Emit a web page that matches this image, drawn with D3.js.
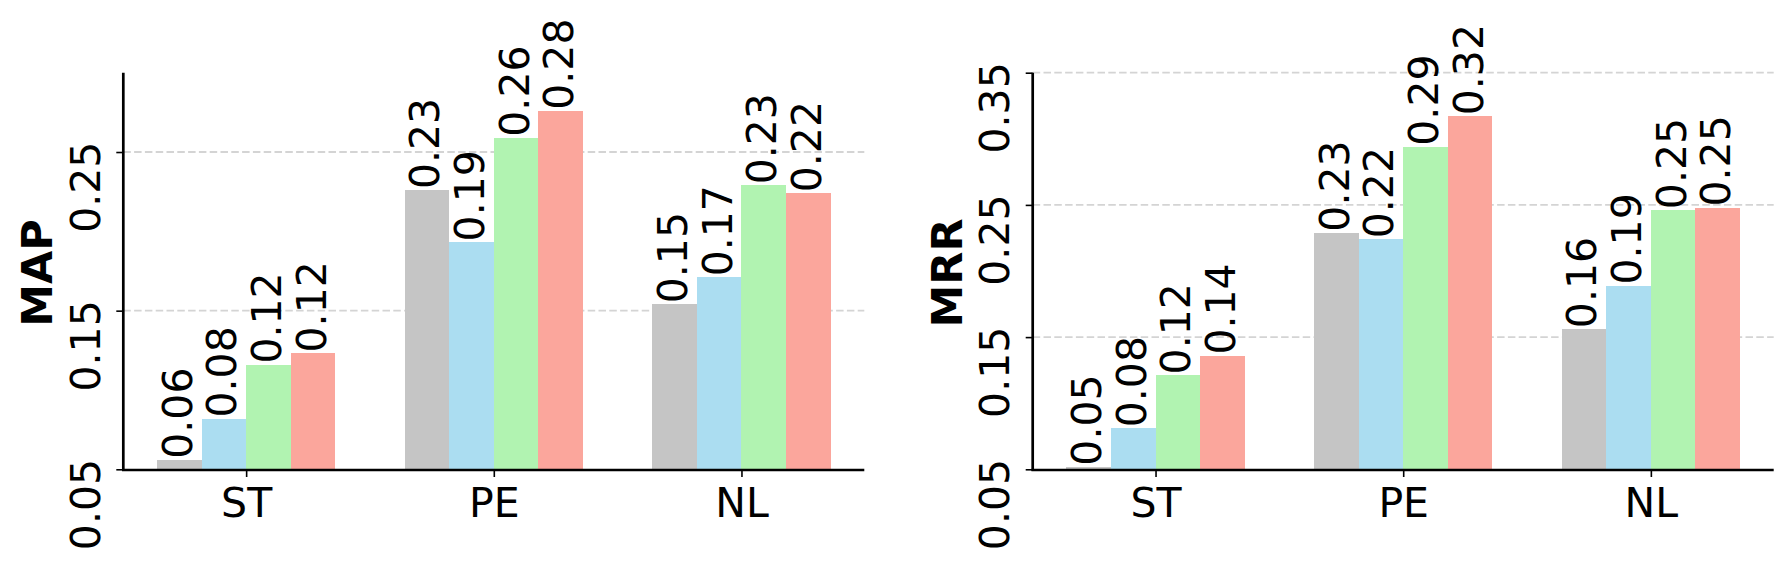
<!DOCTYPE html>
<html>
  <head>
    <title>MAP / MRR bars</title>
    <script src="https://cdnjs.cloudflare.com/ajax/libs/d3/7.8.5/d3.min.js"></script>
    <style>
      body { margin: 0; background: #fff; }
      text { font-family: "DejaVu Sans", sans-serif; }
    </style>
  </head>
  <body>
    <script>
      // categories on the x axis
      var categories = ["ST", "PE", "NL"];

      // MAP per series (one value per category)
      var mapSeries1 = [0.056, 0.226, 0.154];
      var mapSeries2 = [0.082, 0.193, 0.171];
      var mapSeries3 = [0.116, 0.259, 0.229];
      var mapSeries4 = [0.123, 0.276, 0.224];

      // MRR per series
      var mrrSeries1 = [0.052, 0.229, 0.156];
      var mrrSeries2 = [0.081, 0.224, 0.189];
      var mrrSeries3 = [0.121, 0.294, 0.246];
      var mrrSeries4 = [0.136, 0.317, 0.248];

      var mapTicks = [0.05, 0.15, 0.25];
      var mrrTicks = [0.05, 0.15, 0.25, 0.35];

      var colors = ["#c5c5c5", "#abddf1", "#b1f3b1", "#fba69c"];

      var canvas = d3.select("body").append("svg")
               .attr("width", 1784)
               .attr("height", 561);

      var fmt = d3.format(".2f");
      var barW = 0.18;

      function panel(x0, x1, yMax, label, series, ticks){
        var top = 72.7, bottom = 469.3;
        var x = d3.scaleLinear().domain([-0.496, 2.496]).range([x0, x1]);
        var y = d3.scaleLinear().domain([0.05, yMax]).range([bottom, top]);
        var g = canvas.append("g");

        // grid
        g.selectAll("line.grid").data(ticks.filter(function(t){ return t > 0.05; }))
          .enter().append("line")
          .attr("class", "grid")
          .attr("x1", x0).attr("x2", x1)
          .attr("y1", function(d){ return y(d); })
          .attr("y2", function(d){ return y(d); })
          .attr("stroke", "#d4d4d4")
          .attr("stroke-width", 1.8)
          .attr("stroke-dasharray", "7.5,3.3");

        // bars
        var flat = [];
        series.forEach(function(vals, j){
          vals.forEach(function(v, i){
            flat.push({cat: i, s: j, v: v});
          });
        });
        var pos = function(d){ return d.cat + (d.s - 2) * barW; };

        g.selectAll("rect.bar").data(flat).enter().append("rect")
          .attr("class", "bar")
          .attr("shape-rendering", "crispEdges")
          .attr("x", function(d){ return x(pos(d)); })
          .attr("width", function(d){ return x(pos(d) + barW) - x(pos(d)); })
          .attr("y", function(d){ return y(d.v); })
          .attr("height", function(d){ return y(0.05) - y(d.v); })
          .attr("fill", function(d){ return colors[d.s]; });

        // value labels
        g.selectAll("text.val").data(flat).enter().append("text")
          .attr("class", "val")
          .attr("transform", function(d){
            var cx = x(pos(d) + barW / 2) + 12.5;
            return "translate(" + cx + "," + (y(d.v) - 1) + ") rotate(-90)";
          })
          .attr("font-size", 41)
          .attr("text-anchor", "start")
          .text(function(d){ return fmt(d.v); });

        // y axis
        var ya = g.append("g")
          .attr("transform", "translate(" + x0 + ",0)")
          .call(d3.axisLeft(y).tickValues(ticks).tickSize(7).tickSizeOuter(0).tickFormat(fmt));
        ya.select(".domain").attr("stroke-width", 2.7).attr("d", "M0," + top + "V" + (bottom + 1.3));
        ya.selectAll(".tick line").attr("stroke-width", 1.6);
        ya.selectAll(".tick text")
          .attr("x", null).attr("dy", null)
          .attr("font-size", 41)
          .attr("fill", "#000")
          .attr("text-anchor", "middle")
          .attr("transform", "translate(-23.3,34.7) rotate(-90)");

        // x axis
        var xa = g.append("g")
          .attr("transform", "translate(0," + (bottom + 0.7) + ")")
          .call(d3.axisBottom(x).tickValues([0, 1, 2]).tickSize(7).tickSizeOuter(0)
                .tickFormat(function(d){ return categories[d]; }));
        xa.select(".domain").attr("stroke-width", 2.7).attr("d", "M" + (x0 - 1.3) + ",0H" + x1);
        xa.selectAll(".tick line").attr("stroke-width", 1.6);
        xa.selectAll(".tick text")
          .attr("dy", null)
          .attr("y", 46.7)
          .attr("font-size", 41)
          .attr("fill", "#000");

        // axis title
        g.append("text")
          .attr("transform", "translate(" + (x0 - 71) + ",273) rotate(-90)")
          .attr("text-anchor", "middle")
          .attr("font-size", 43)
          .attr("font-weight", "bold")
          .text(label);
      }

      panel(123.3, 864.3, 0.30, "MAP",
            [mapSeries1, mapSeries2, mapSeries3, mapSeries4], mapTicks);
      panel(1032.7, 1773.7, 0.35, "MRR",
            [mrrSeries1, mrrSeries2, mrrSeries3, mrrSeries4], mrrTicks);
    </script>
  </body>
</html>
